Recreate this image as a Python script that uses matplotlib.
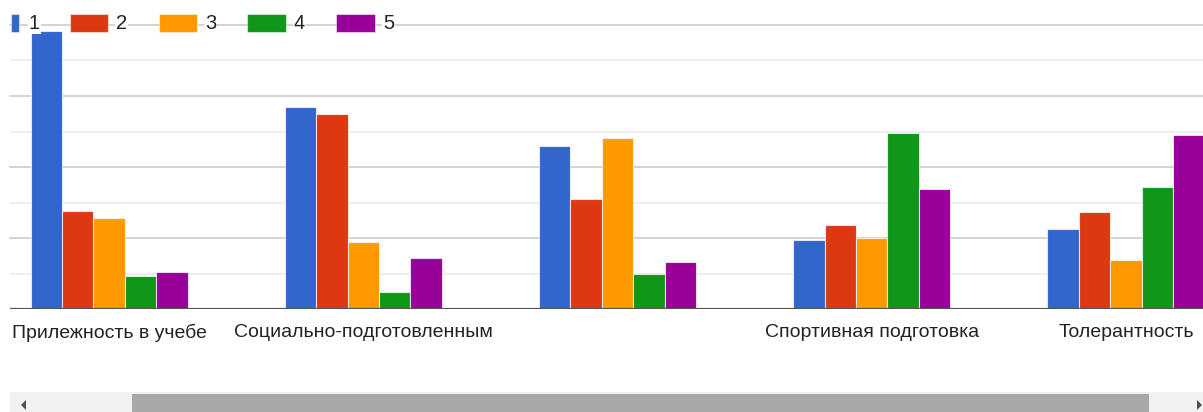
import matplotlib
matplotlib.use("Agg")
import matplotlib.pyplot as plt
from matplotlib.patches import Rectangle, Polygon
import numpy as np

plt.rcParams['font.family'] = ['Liberation Sans', 'DejaVu Sans']

categories = ["Прилежность в учебе", "Социально-подготовленным", "",
              "Спортивная подготовка", "Толерантность"]
series_names = ["1", "2", "3", "4", "5"]
colors = ["#3366CC", "#DC3912", "#FF9900", "#109618", "#990099"]
s1 = [78.3, 56.9, 45.8, 19.5, 22.4]
s2 = [27.6, 55.0, 31.1, 23.7, 27.4]
s3 = [25.6, 19.0, 48.1, 20.0, 13.9]
s4 = [9.3, 4.7, 9.8, 49.6, 34.3]
s5 = [10.4, 14.4, 13.1, 33.8, 49.1]
series = [s1, s2, s3, s4, s5]

W, H = 1203, 412
fig = plt.figure(figsize=(W / 100, H / 100), dpi=100)

ax_l, ax_b, ax_r, ax_t = 10, 309, 1203, 25
ax = fig.add_axes([ax_l / W, (H - ax_b) / H, (ax_r - ax_l) / W, (ax_b - ax_t) / H])
ax.set_ylim(0, 80)
ax.set_xlim(-0.390, 4.303)

for v in [10, 30, 50, 70]:
    ax.axhline(v, color="#ebebeb", lw=1.2, zorder=0)
for v in [20, 40, 60, 80]:
    ax.axhline(v, color="#cccccc", lw=1.2, zorder=0, clip_on=False)

bw = 0.1236
x = np.arange(len(categories))
for j, (vals, c) in enumerate(zip(series, colors)):
    ax.bar(x + (j - 2) * bw, vals, width=bw, color=c, edgecolor=(1, 1, 1, 0.7),
           linewidth=0.8, zorder=2)

ax.axhline(0, color="#555555", lw=1.6, zorder=3)
for s in ax.spines.values():
    s.set_visible(False)
ax.set_yticks([])
ax.set_xticks(x)
ax.set_xticklabels(categories, fontsize=14, color="#222222")
ax.tick_params(axis="x", length=0, pad=10.5)

# overlay for legend and scrollbar (pixel coordinates)
ov = fig.add_axes([0, 0, 1, 1], zorder=5)
ov.set_xlim(0, W)
ov.set_ylim(H, 0)
ov.axis("off")
ov.patch.set_alpha(0)

sw = [(10.7, 19.3), (70, 108), (159, 197), (247, 286), (336, 375)]
tx = [29, 116, 205, 294, 383]
for (x0, x1), t, c, name in zip(sw, tx, colors, series_names):
    ov.add_patch(Rectangle((x0, 14), x1 - x0, 18, facecolor=c, edgecolor=(1, 1, 1, 0.5), lw=0.8))
    ov.text(t, 23.5, name, fontsize=14.5, color="#222222", va="center", ha="left",
            bbox=dict(facecolor="white", edgecolor="none", pad=0.8))

# scrollbar
ov.add_patch(Rectangle((10, 392), W - 10, 20, facecolor="#f1f1f1", edgecolor="none"))
ov.add_patch(Rectangle((132, 394), 1149 - 132, 18, facecolor="#a8a8a8", edgecolor="none"))
ov.add_patch(Polygon([[21, 405], [26, 400], [26, 410]], closed=True, facecolor="#505050"))
ov.add_patch(Polygon([[1202, 405], [1197, 400], [1197, 410]], closed=True, facecolor="#505050"))

fig.savefig("out.png", dpi=100, facecolor="white")
